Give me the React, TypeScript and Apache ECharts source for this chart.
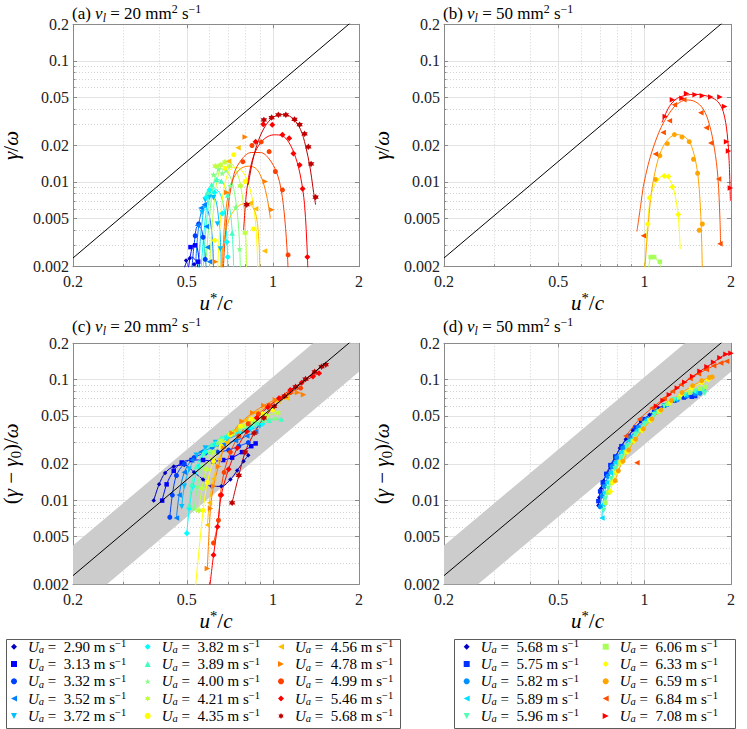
import React, { useEffect, useRef } from 'react';
import * as echarts from 'echarts';

// ---------------- data ----------------
const UA_20 = ['2.90', '3.13', '3.32', '3.52', '3.72', '3.82', '3.89', '4.00', '4.21', '4.35', '4.56', '4.78', '4.99', '5.46', '5.68'];
const UA_50 = ['5.68', '5.75', '5.82', '5.89', '5.96', '6.06', '6.33', '6.59', '6.84', '7.08'];

const COLORS_20 = ['#0000BF', '#0000FF', '#0040FF', '#0080FF', '#00BFFF', '#00FFFF', '#40FFBF', '#80FF80', '#BFFF40', '#FFFF00', '#FFBF00', '#FF8000', '#FF4000', '#FF0000', '#BF0000'];
const COLORS_50 = ['#0000C8', '#0030FF', '#0090FF', '#00E0FF', '#50FFB0', '#A8FF58', '#FFFF00', '#FFA500', '#FF5000', '#FF0000'];

const MARKERS_20 = ['dot', 'rect', 'circle', 'left', 'down', 'diamond', 'up', 'star', 'hex', 'circle', 'left', 'right', 'circle', 'diamond', 'hex'];
const MARKERS_50 = ['dot', 'rect', 'circle', 'left', 'down', 'rect', 'diamond', 'circle', 'left', 'right'];

const TICK_X_MAJOR = [0.2, 0.5, 1, 2];
const TICK_X_MINOR = [0.3, 0.4, 0.6, 0.7, 0.8, 0.9];
const TICK_Y_MAJOR = [0.002, 0.005, 0.01, 0.02, 0.05, 0.1, 0.2];
const TICK_Y_MINOR = [0.003, 0.004, 0.006, 0.007, 0.008, 0.009, 0.03, 0.04, 0.06, 0.07, 0.08, 0.09];

// theory line  gamma/omega = beta (u*/c)^2 and +/- band
const THEORY = [[0.2, 0.00236], [2, 0.236]];
const BAND_POLY = [[0.2, 0.0042], [2, 0.42], [2, 0.116], [0.2, 0.00116]];

// panel (a): nu_l = 20, gamma/omega
const A_MARKS = [
  [[0.497, 0.00225], [0.512, 0.00235], [0.53, 0.0021]],
  [[0.515, 0.0029], [0.535, 0.003], [0.548, 0.0022]],
  [[0.535, 0.0036], [0.55, 0.0045], [0.57, 0.0035], [0.58, 0.0023]],
  [[0.545, 0.0044], [0.56, 0.0061], [0.575, 0.0065], [0.585, 0.0043], [0.59, 0.0029], [0.6, 0.0022]],
  [[0.565, 0.0056], [0.58, 0.0071], [0.6, 0.0075], [0.62, 0.0074], [0.64, 0.0045], [0.655, 0.0028]],
  [[0.585, 0.0075], [0.6, 0.0086], [0.625, 0.0082], [0.665, 0.0055], [0.69, 0.0032], [0.695, 0.0024]],
  [[0.59, 0.0082], [0.61, 0.0095], [0.635, 0.0105], [0.66, 0.0102], [0.695, 0.0078], [0.72, 0.0038]],
  [[0.62, 0.0115], [0.645, 0.0128], [0.665, 0.0118], [0.685, 0.0125], [0.71, 0.0093], [0.74, 0.0062], [0.765, 0.0028]],
  [[0.63, 0.0135], [0.655, 0.0138], [0.68, 0.0146], [0.705, 0.0135], [0.77, 0.0093], [0.8, 0.0038]],
  [[0.625, 0.0033], [0.68, 0.013], [0.73, 0.0168], [0.8, 0.0101], [0.855, 0.0041]],
  [[0.7, 0.0148], [0.755, 0.0192], [0.835, 0.0067], [0.87, 0.006], [0.935, 0.0027]],
  [[0.63, 0.0022], [0.69, 0.0082], [0.8, 0.0235], [0.94, 0.0101], [0.99, 0.0059]],
  [[0.785, 0.0147], [0.845, 0.02], [0.91, 0.0214], [0.97, 0.0178], [1.02, 0.0122], [1.08, 0.0086], [1.13, 0.0025]],
  [[0.87, 0.0215], [0.925, 0.03], [0.995, 0.0297], [1.08, 0.0245], [1.14, 0.023], [1.18, 0.0172], [1.24, 0.0138], [1.27, 0.0088], [1.32, 0.0024]],
  [[0.81, 0.0065], [0.93, 0.0325], [0.99, 0.034], [1.045, 0.0358], [1.11, 0.0358], [1.19, 0.0328], [1.24, 0.0297], [1.29, 0.025], [1.33, 0.0195], [1.36, 0.0141], [1.41, 0.0075]],
];
const A_LINES = [
  [[0.485, 0.0018], [0.5, 0.0022], [0.52, 0.0024], [0.54, 0.0022], [0.55, 0.0018]],
  [[0.505, 0.0018], [0.515, 0.0025], [0.53, 0.0031], [0.545, 0.0028], [0.555, 0.0018]],
  [[0.52, 0.0018], [0.53, 0.003], [0.545, 0.0043], [0.56, 0.0042], [0.575, 0.003], [0.585, 0.0018]],
  [[0.535, 0.0018], [0.545, 0.0035], [0.56, 0.0055], [0.58, 0.0062], [0.6, 0.0052], [0.615, 0.0032], [0.62, 0.0018]],
  [[0.55, 0.0018], [0.56, 0.0038], [0.58, 0.0068], [0.6, 0.0078], [0.625, 0.0074], [0.64, 0.006], [0.655, 0.0035], [0.66, 0.0018]],
  [[0.56, 0.0018], [0.575, 0.004], [0.595, 0.0075], [0.62, 0.0088], [0.65, 0.0082], [0.675, 0.006], [0.69, 0.0035], [0.695, 0.0018]],
  [[0.57, 0.0018], [0.585, 0.0045], [0.61, 0.009], [0.64, 0.0105], [0.67, 0.0098], [0.7, 0.007], [0.72, 0.004], [0.73, 0.0018]],
  [[0.58, 0.0018], [0.6, 0.005], [0.625, 0.0105], [0.66, 0.0128], [0.7, 0.0118], [0.735, 0.008], [0.76, 0.004], [0.77, 0.0018]],
  [[0.6, 0.0018], [0.62, 0.006], [0.65, 0.0125], [0.69, 0.0148], [0.73, 0.0135], [0.77, 0.0095], [0.8, 0.0045], [0.81, 0.0018]],
  [[0.64, 0.0018], [0.66, 0.006], [0.69, 0.0112], [0.73, 0.0132], [0.77, 0.0128], [0.82, 0.0098], [0.86, 0.0058], [0.88, 0.003], [0.885, 0.0018]],
  [[0.655, 0.0018], [0.67, 0.003], [0.7, 0.0048], [0.74, 0.006], [0.79, 0.0066], [0.84, 0.0064], [0.875, 0.0052], [0.895, 0.003], [0.9, 0.0018]],
  [[0.665, 0.0018], [0.68, 0.005], [0.71, 0.0092], [0.76, 0.0125], [0.82, 0.0135], [0.87, 0.013], [0.91, 0.011], [0.95, 0.0078], [0.98, 0.005]],
  [[0.67, 0.0018], [0.69, 0.005], [0.73, 0.0115], [0.78, 0.0155], [0.84, 0.0175], [0.905, 0.0175], [0.97, 0.0155], [1.03, 0.012], [1.07, 0.0085], [1.1, 0.005], [1.125, 0.0024], [1.13, 0.0018]],
  [[0.79, 0.004], [0.81, 0.0085], [0.84, 0.014], [0.88, 0.019], [0.94, 0.023], [1.01, 0.0245], [1.08, 0.024], [1.14, 0.021], [1.2, 0.016], [1.25, 0.011], [1.29, 0.0065], [1.32, 0.0025], [1.325, 0.0018]],
  [[0.82, 0.0095], [0.85, 0.015], [0.89, 0.022], [0.95, 0.03], [1.02, 0.035], [1.1, 0.036], [1.18, 0.033], [1.25, 0.027], [1.3, 0.02], [1.35, 0.013], [1.38, 0.009], [1.41, 0.0065]],
];

// panel (b): nu_l = 50, gamma/omega
const B_MARKS = [
  [], [], [], [], [],
  [[1.05, 0.0024], [1.08, 0.0024], [1.13, 0.0022]],
  [[1.025, 0.0045], [1.04, 0.0074], [1.1, 0.0104], [1.17, 0.0112], [1.21, 0.0111], [1.25, 0.0091], [1.31, 0.0054]],
  [[1.09, 0.0105], [1.13, 0.0165], [1.2, 0.0207], [1.27, 0.0246], [1.35, 0.0235], [1.43, 0.0215], [1.48, 0.0154], [1.53, 0.0118], [1.55, 0.004], [1.59, 0.0045]],
  [[0.99, 0.0036], [1.09, 0.017], [1.16, 0.0256], [1.22, 0.032], [1.27, 0.0433], [1.37, 0.0477], [1.57, 0.0372], [1.64, 0.028], [1.7, 0.021], [1.81, 0.0106], [1.83, 0.0031]],
  [[1.18, 0.0347], [1.25, 0.0477], [1.35, 0.0491], [1.4, 0.0536], [1.5, 0.0525], [1.59, 0.0515], [1.7, 0.0502], [1.83, 0.0502], [1.9, 0.042], [1.93, 0.0215], [1.96, 0.018], [1.99, 0.0089]],
];
const B_LINES = [
  [], [], [], [], [],
  [[1.03, 0.0018], [1.045, 0.0023], [1.07, 0.0025], [1.1, 0.0023], [1.13, 0.0021], [1.15, 0.0018]],
  [[1.0, 0.0018], [1.02, 0.004], [1.05, 0.0075], [1.1, 0.0102], [1.16, 0.0112], [1.22, 0.0105], [1.27, 0.0082], [1.31, 0.0052], [1.33, 0.0028]],
  [[1.0, 0.0018], [1.03, 0.0045], [1.07, 0.01], [1.16, 0.0196], [1.29, 0.0246], [1.37, 0.0238], [1.44, 0.021], [1.5, 0.0155], [1.54, 0.0104], [1.57, 0.0052], [1.59, 0.0018]],
  [[0.94, 0.0039], [0.97, 0.0065], [0.99, 0.0092], [1.03, 0.014], [1.07, 0.019], [1.14, 0.028], [1.22, 0.037], [1.3, 0.044], [1.4, 0.0475], [1.5, 0.046], [1.6, 0.04], [1.68, 0.03], [1.75, 0.019], [1.8, 0.011], [1.83, 0.005], [1.84, 0.003]],
  [[1.15, 0.031], [1.22, 0.042], [1.3, 0.049], [1.4, 0.052], [1.5, 0.053], [1.6, 0.052], [1.7, 0.05], [1.8, 0.046], [1.88, 0.038], [1.94, 0.025], [1.97, 0.015], [1.99, 0.007]],
];

// panel (c): nu_l = 20, (gamma - gamma0)/omega
const C_MARKS = [
  [[0.383, 0.0099], [0.4, 0.0135], [0.42, 0.0168], [0.45, 0.019], [0.49, 0.0195], [0.53, 0.017], [0.57, 0.0148], [0.61, 0.013], [0.66, 0.013], [0.71, 0.0148], [0.75, 0.0176], [0.79, 0.021], [0.82, 0.0235]],
  [[0.41, 0.0099], [0.425, 0.0135], [0.45, 0.0175], [0.48, 0.0205], [0.52, 0.0215], [0.57, 0.0215], [0.62, 0.021], [0.67, 0.0215], [0.72, 0.0225], [0.78, 0.025], [0.84, 0.028], [0.87, 0.0295]],
  [[0.436, 0.0072], [0.445, 0.011], [0.46, 0.016], [0.49, 0.02], [0.53, 0.0225], [0.58, 0.0245], [0.64, 0.025], [0.7, 0.026], [0.76, 0.028], [0.82, 0.03]],
  [[0.46, 0.0071], [0.47, 0.011], [0.49, 0.017], [0.52, 0.0215], [0.56, 0.025], [0.61, 0.027], [0.67, 0.029], [0.74, 0.031], [0.81, 0.034], [0.87, 0.037]],
  [[0.48, 0.0088], [0.49, 0.013], [0.51, 0.018], [0.54, 0.0235], [0.58, 0.027], [0.63, 0.03], [0.69, 0.032], [0.76, 0.035], [0.83, 0.038], [0.9, 0.041]],
  [[0.5, 0.0053], [0.51, 0.0085], [0.525, 0.013], [0.55, 0.019], [0.58, 0.025], [0.63, 0.029], [0.69, 0.033], [0.76, 0.036], [0.84, 0.04], [0.92, 0.043]],
  [[0.51, 0.0091], [0.52, 0.0135], [0.54, 0.019], [0.57, 0.0245], [0.61, 0.029], [0.66, 0.033], [0.72, 0.037], [0.8, 0.041], [0.88, 0.044], [0.97, 0.046], [1.07, 0.047]],
  [[0.53, 0.0085], [0.545, 0.013], [0.565, 0.019], [0.6, 0.025], [0.64, 0.03], [0.7, 0.035], [0.77, 0.039], [0.85, 0.043], [0.93, 0.046], [1.02, 0.048]],
  [[0.55, 0.0082], [0.565, 0.0125], [0.585, 0.018], [0.62, 0.025], [0.66, 0.031], [0.72, 0.036], [0.79, 0.041], [0.87, 0.046], [0.95, 0.05], [1.04, 0.053]],
  [[0.535, 0.0018], [0.57, 0.0082], [0.59, 0.014], [0.62, 0.021], [0.66, 0.028], [0.71, 0.035], [0.77, 0.041], [0.84, 0.047], [0.92, 0.052], [1.0, 0.056]],
  [[0.59, 0.0062], [0.6, 0.0095], [0.62, 0.015], [0.65, 0.022], [0.69, 0.03], [0.74, 0.038], [0.8, 0.046], [0.87, 0.053], [0.95, 0.06], [1.04, 0.066], [1.12, 0.07]],
  [[0.59, 0.0027], [0.605, 0.0085], [0.62, 0.013], [0.645, 0.019], [0.675, 0.027], [0.72, 0.036], [0.78, 0.045], [0.85, 0.053], [0.93, 0.061], [1.02, 0.068], [1.12, 0.074], [1.22, 0.078], [1.28, 0.075]],
  [[0.62, 0.0044], [0.645, 0.0068], [0.655, 0.011], [0.675, 0.017], [0.71, 0.025], [0.76, 0.034], [0.82, 0.043], [0.89, 0.052], [0.97, 0.061], [1.06, 0.07], [1.15, 0.078], [1.25, 0.085]],
  [[0.6, 0.0018], [0.62, 0.0035], [0.64, 0.006], [0.66, 0.011], [0.7, 0.018], [0.75, 0.027], [0.81, 0.037], [0.88, 0.048], [0.96, 0.059], [1.05, 0.07], [1.15, 0.082], [1.26, 0.094], [1.38, 0.106], [1.45, 0.113]],
  [[0.72, 0.0095], [0.76, 0.016], [0.8, 0.025], [0.86, 0.036], [0.93, 0.048], [1.01, 0.06], [1.1, 0.073], [1.2, 0.087], [1.3, 0.101], [1.4, 0.116], [1.48, 0.128], [1.53, 0.133]],
];

// panel (d): nu_l = 50, (gamma - gamma0)/omega
const D_MARKS = [
  [[0.69, 0.009], [0.695, 0.0105], [0.705, 0.0125], [0.72, 0.0145], [0.74, 0.0165], [0.76, 0.019], [0.79, 0.0225], [0.82, 0.027], [0.86, 0.032], [0.91, 0.038], [0.97, 0.045], [1.04, 0.051], [1.12, 0.058], [1.21, 0.064], [1.3, 0.068], [1.4, 0.072], [1.48, 0.074]],
  [[0.69, 0.0098], [0.7, 0.0118], [0.715, 0.014], [0.735, 0.0165], [0.76, 0.0195], [0.79, 0.023], [0.83, 0.028], [0.88, 0.034], [0.93, 0.04], [1.0, 0.047], [1.08, 0.054], [1.17, 0.061], [1.27, 0.067], [1.37, 0.071], [1.46, 0.072], [1.5, 0.073]],
  [[0.7, 0.0088], [0.71, 0.0108], [0.725, 0.013], [0.745, 0.0158], [0.77, 0.019], [0.8, 0.0225], [0.84, 0.027], [0.89, 0.033], [0.95, 0.04], [1.02, 0.047], [1.1, 0.055], [1.2, 0.062], [1.3, 0.068], [1.4, 0.073], [1.5, 0.076], [1.56, 0.077]],
  [[0.71, 0.0071], [0.715, 0.0092], [0.725, 0.0115], [0.74, 0.014], [0.76, 0.0168], [0.79, 0.0205], [0.83, 0.025], [0.88, 0.031], [0.94, 0.038], [1.01, 0.046], [1.09, 0.054], [1.18, 0.062], [1.28, 0.069], [1.39, 0.075], [1.5, 0.079], [1.6, 0.081]],
  [[0.72, 0.0082], [0.73, 0.0102], [0.745, 0.0125], [0.765, 0.015], [0.79, 0.0182], [0.83, 0.0225], [0.87, 0.028], [0.93, 0.035], [1.0, 0.043], [1.08, 0.051], [1.17, 0.06], [1.27, 0.068], [1.38, 0.075], [1.5, 0.08], [1.6, 0.082], [1.62, 0.077]],
  [[0.73, 0.0095], [0.745, 0.0115], [0.765, 0.014], [0.79, 0.017], [0.82, 0.0205], [0.86, 0.025], [0.91, 0.031], [0.97, 0.038], [1.04, 0.046], [1.12, 0.054], [1.21, 0.063], [1.32, 0.071], [1.44, 0.078], [1.56, 0.084], [1.63, 0.087]],
  [[0.76, 0.0118], [0.775, 0.014], [0.8, 0.017], [0.83, 0.0205], [0.87, 0.025], [0.92, 0.031], [0.98, 0.038], [1.05, 0.046], [1.13, 0.055], [1.23, 0.065], [1.34, 0.075], [1.46, 0.085], [1.58, 0.094], [1.67, 0.1]],
  [[0.79, 0.0145], [0.81, 0.0175], [0.84, 0.021], [0.88, 0.026], [0.93, 0.032], [0.99, 0.039], [1.06, 0.047], [1.14, 0.056], [1.24, 0.067], [1.35, 0.078], [1.47, 0.089], [1.58, 0.098], [1.68, 0.104], [1.72, 0.105]],
  [[0.86, 0.034], [0.96, 0.047], [1.06, 0.058], [1.17, 0.07], [1.25, 0.08], [1.34, 0.091], [1.44, 0.102], [1.54, 0.112], [1.64, 0.121], [1.74, 0.13], [1.84, 0.137], [1.93, 0.142]],
  [[1.1, 0.06], [1.16, 0.067], [1.22, 0.075], [1.3, 0.085], [1.38, 0.095], [1.47, 0.106], [1.56, 0.117], [1.65, 0.128], [1.74, 0.139], [1.83, 0.152], [1.92, 0.162], [2.0, 0.165], [2.04, 0.16]],
];
const D_EXTRA = [[], [], [], [], [], [], [], [], [[0.94, 0.0204]], []];

// ---------------- styling ----------------
const SERIF = "'Liberation Serif', 'DejaVu Serif', serif";
const BOX = '#8a8a8a';
const MAJOR_GRID = '#e3e3e3';
const MINOR_GRID = '#d2d2d2';
const BAND_COLOR = '#cccccc';

const SYM: Record<string, [string, number]> = {
  dot: ['diamond', 4.5],
  diamond: ['diamond', 6],
  rect: ['rect', 4.5],
  circle: ['circle', 5],
  up: ['triangle', 5.5],
  left: ['path://M0,5L10,0L10,10Z', 5.5],
  right: ['path://M10,5L0,0L0,10Z', 5.5],
  down: ['path://M0,0L10,0L5,10Z', 5.5],
  star: ['path://M5,0L6.123,3.455L9.755,3.455L6.817,5.59L7.939,9.045L5,6.91L2.061,9.045L3.183,5.59L0.245,3.455L3.877,3.455Z', 6.5],
  hex: ['path://M5,0L6.443,2.5L9.33,2.5L7.887,5L9.33,7.5L6.443,7.5L5,10L3.557,7.5L0.67,7.5L2.113,5L0.67,2.5L3.557,2.5Z', 6.5],
};

function rich(fs: number) {
  const b = { fontFamily: SERIF, fontWeight: 'normal', color: '#000' };
  return {
    n: { ...b, fontSize: fs, lineHeight: fs + 4 },
    i: { ...b, fontStyle: 'italic', fontSize: fs, lineHeight: fs + 4 },
    sub: { ...b, fontStyle: 'italic', fontSize: fs * 0.7, lineHeight: fs * 0.7, verticalAlign: 'bottom' },
    subn: { ...b, fontSize: fs * 0.7, lineHeight: fs * 0.7, verticalAlign: 'bottom' },
    sup: { ...b, fontSize: fs * 0.7, lineHeight: fs * 0.7, verticalAlign: 'top' },
  };
}

const fmt = (v: number) => String(parseFloat(Number(v).toPrecision(4)));

const GRIDS = [
  { left: 73, top: 24.3, width: 286, height: 242.4 },
  { left: 444, top: 24.3, width: 287, height: 242.4 },
  { left: 73, top: 343.3, width: 286, height: 241 },
  { left: 444, top: 343.3, width: 287, height: 241 },
];

const X_NAME = '{i|u}{sup|*}{n|/}{i|c}';
const Y_NAME_TOP = '{i|γ}{n|/}{i|ω}';
const Y_NAME_BOT = '{n|(}{i|γ}{n| − }{i|γ}{subn|0}{n|)/}{i|ω}';

function xAxes(gi: number) {
  const base = { type: 'log', logBase: 10, gridIndex: gi, min: 0.2, max: 2 };
  return [
    {
      ...base, position: 'bottom',
      axisLine: { show: true, lineStyle: { color: BOX, width: 1 } },
      axisTick: { show: true, inside: true, length: 4, customValues: TICK_X_MAJOR, lineStyle: { color: BOX } },
      axisLabel: { show: true, customValues: TICK_X_MAJOR, formatter: fmt, margin: 7, color: '#222', fontFamily: SERIF, fontSize: 16 },
      splitLine: { show: true, lineStyle: { color: MAJOR_GRID, width: 1 } },
      name: X_NAME, nameLocation: 'middle', nameGap: 23, nameTextStyle: { rich: rich(21) },
    },
    {
      ...base, position: 'bottom',
      axisLine: { show: false },
      axisTick: { show: true, inside: true, length: 2.5, customValues: TICK_X_MINOR, lineStyle: { color: BOX } },
      axisLabel: { show: false },
      splitLine: { show: true, lineStyle: { color: MINOR_GRID, width: 1, type: [1, 2] } },
    },
    {
      ...base, position: 'top',
      axisLine: { show: true, lineStyle: { color: BOX, width: 1 } },
      axisTick: { show: true, inside: true, length: 4, customValues: TICK_X_MAJOR, lineStyle: { color: BOX } },
      axisLabel: { show: false },
      splitLine: { show: false },
    },
  ];
}

function yAxes(gi: number, name: string) {
  const base = { type: 'log', logBase: 10, gridIndex: gi, min: 0.002, max: 0.2 };
  return [
    {
      ...base, position: 'left',
      axisLine: { show: true, lineStyle: { color: BOX, width: 1 } },
      axisTick: { show: true, inside: true, length: 4, customValues: TICK_Y_MAJOR, lineStyle: { color: BOX } },
      axisLabel: { show: true, customValues: TICK_Y_MAJOR, formatter: fmt, margin: 4, color: '#222', fontFamily: SERIF, fontSize: 16 },
      splitLine: { show: true, lineStyle: { color: MAJOR_GRID, width: 1 } },
      name, nameLocation: 'middle', nameRotate: 90, nameGap: 50, nameTextStyle: { rich: rich(21) },
    },
    {
      ...base, position: 'left',
      axisLine: { show: false },
      axisTick: { show: true, inside: true, length: 2.5, customValues: TICK_Y_MINOR, lineStyle: { color: BOX } },
      axisLabel: { show: false },
      splitLine: { show: true, lineStyle: { color: MINOR_GRID, width: 1, type: [1, 2] } },
    },
    {
      ...base, position: 'right',
      axisLine: { show: true, lineStyle: { color: BOX, width: 1 } },
      axisTick: { show: true, inside: true, length: 4, customValues: TICK_Y_MAJOR, lineStyle: { color: BOX } },
      axisLabel: { show: false },
      splitLine: { show: false },
    },
  ];
}

function panelSeries(gi: number, prefix: string, labels: string[], colors: string[], markers: string[], marks: number[][][], lines: (number[][] | null)[], extra?: number[][][]) {
  const out: any[] = [];
  labels.forEach((lab, j) => {
    const [sym, size] = SYM[markers[j]];
    const ln = lines[j] ?? marks[j];
    if (ln && ln.length) {
      out.push({
        type: 'line', xAxisIndex: gi * 3, yAxisIndex: gi * 3, data: ln,
        symbol: 'none', showSymbol: false, smooth: 0.35, silent: true, clip: true,
        lineStyle: { color: colors[j], width: 1 }, z: 2,
      });
    }
    out.push({
      type: 'scatter', name: prefix + lab, xAxisIndex: gi * 3, yAxisIndex: gi * 3,
      data: extra ? [...marks[j], ...extra[j]] : marks[j],
      symbol: sym, symbolSize: size, clip: true, silent: true,
      itemStyle: { color: colors[j], opacity: 1 }, z: 3,
    });
  });
  return out;
}

function bandSeries(gi: number) {
  return {
    type: 'custom', xAxisIndex: gi * 3, yAxisIndex: gi * 3, clip: true, silent: true, z: 1,
    data: BAND_POLY,
    renderItem: (params: any, api: any) => {
      if (params.dataIndex !== 0) return null;
      const points = BAND_POLY.map((p) => api.coord(p));
      return { type: 'polygon', shape: { points }, style: { fill: BAND_COLOR } };
    },
  };
}

function theorySeries(gi: number) {
  return {
    type: 'line', xAxisIndex: gi * 3, yAxisIndex: gi * 3, data: THEORY,
    symbol: 'none', showSymbol: false, silent: true, clip: true,
    lineStyle: { color: '#000', width: 1 }, z: 5,
  };
}

const LB = { fontFamily: SERIF, fontWeight: 'normal', color: '#000' };
const LEG_RICH = {
  g: { ...LB, fontSize: 15, lineHeight: 17, width: 6 },
  u: { ...LB, fontStyle: 'italic', fontSize: 15, lineHeight: 17 },
  s: { ...LB, fontStyle: 'italic', fontSize: 10.5, lineHeight: 10, verticalAlign: 'bottom' },
  t: { ...LB, fontSize: 15, lineHeight: 17 },
  p: { ...LB, fontSize: 10.5, lineHeight: 10, verticalAlign: 'top' },
};

function legend(names: string[], left: number) {
  return {
    data: names, left, top: 638.2, orient: 'vertical', padding: 0, itemGap: 0.3,
    itemWidth: 6, itemHeight: 6, selectedMode: false,
    textStyle: { rich: LEG_RICH, fontFamily: SERIF, fontSize: 15, color: '#000' },
    formatter: (name: string) => `{g|}{u|U}{s|a}{t| =\u00a0\u00a0${name.slice(1)} m s}{p|−1}`,
  };
}

function titleItem(left: number, top: number, text: string) {
  return { left, top, text, padding: 0, textStyle: { rich: rich(17), fontFamily: SERIF, fontWeight: 'normal', fontSize: 17, color: '#000' } };
}

function buildOption() {
  const n20 = UA_20.map((u) => 'A' + u);
  const n50 = UA_50.map((u) => 'B' + u);
  const series: any[] = [
    ...panelSeries(0, 'A', UA_20, COLORS_20, MARKERS_20, A_MARKS, A_LINES),
    theorySeries(0),
    ...panelSeries(1, 'B', UA_50, COLORS_50, MARKERS_50, B_MARKS, B_LINES),
    theorySeries(1),
    bandSeries(2),
    ...panelSeries(2, 'A', UA_20, COLORS_20, MARKERS_20, C_MARKS, C_MARKS.map(() => null)),
    theorySeries(2),
    bandSeries(3),
    ...panelSeries(3, 'B', UA_50, COLORS_50, MARKERS_50, D_MARKS, D_MARKS.map(() => null), D_EXTRA),
    theorySeries(3),
  ];
  return {
    animation: false,
    backgroundColor: '#fff',
    textStyle: { fontFamily: SERIF },
    title: [
      titleItem(72, 3, '{n|(a) }{i|ν}{sub|l}{n| = 20 mm}{sup|2}{n| s}{sup|−1}'),
      titleItem(443, 3, '{n|(b) }{i|ν}{sub|l}{n| = 50 mm}{sup|2}{n| s}{sup|−1}'),
      titleItem(72, 316, '{n|(c) }{i|ν}{sub|l}{n| = 20 mm}{sup|2}{n| s}{sup|−1}'),
      titleItem(443, 316, '{n|(d) }{i|ν}{sub|l}{n| = 50 mm}{sup|2}{n| s}{sup|−1}'),
    ],
    grid: GRIDS.map((g) => ({ ...g, containLabel: false, outerBoundsMode: 'none' })),
    xAxis: [...xAxes(0), ...xAxes(1), ...xAxes(2), ...xAxes(3)],
    yAxis: [...yAxes(0, Y_NAME_TOP), ...yAxes(1, Y_NAME_TOP), ...yAxes(2, Y_NAME_BOT), ...yAxes(3, Y_NAME_BOT)],
    legend: [
      legend(n20.slice(0, 5), 11),
      legend(n20.slice(5, 10), 144.7),
      legend(n20.slice(10, 15), 278),
      legend(n50.slice(0, 5), 463.7),
      legend(n50.slice(5, 10), 602.7),
    ],
    graphic: [
      { type: 'rect', left: 4, top: 637, shape: { x: 0, y: 0, width: 394, height: 89 }, style: { fill: 'none', stroke: '#5c5c5c', lineWidth: 1 }, z: -1 },
      { type: 'rect', left: 452, top: 637, shape: { x: 0, y: 0, width: 281, height: 89 }, style: { fill: 'none', stroke: '#5c5c5c', lineWidth: 1 }, z: -1 },
    ],
    series,
  };
}

export default function App() {
  const ref = useRef<HTMLDivElement>(null);
  useEffect(() => {
    if (!ref.current) return;
    const chart = echarts.init(ref.current, null, { renderer: 'svg' });
    chart.setOption(buildOption() as any);
    return () => chart.dispose();
  }, []);
  return <div ref={ref} style={{ position: 'fixed', left: 0, top: 0, width: 747, height: 729, background: '#fff' }} />;
}
